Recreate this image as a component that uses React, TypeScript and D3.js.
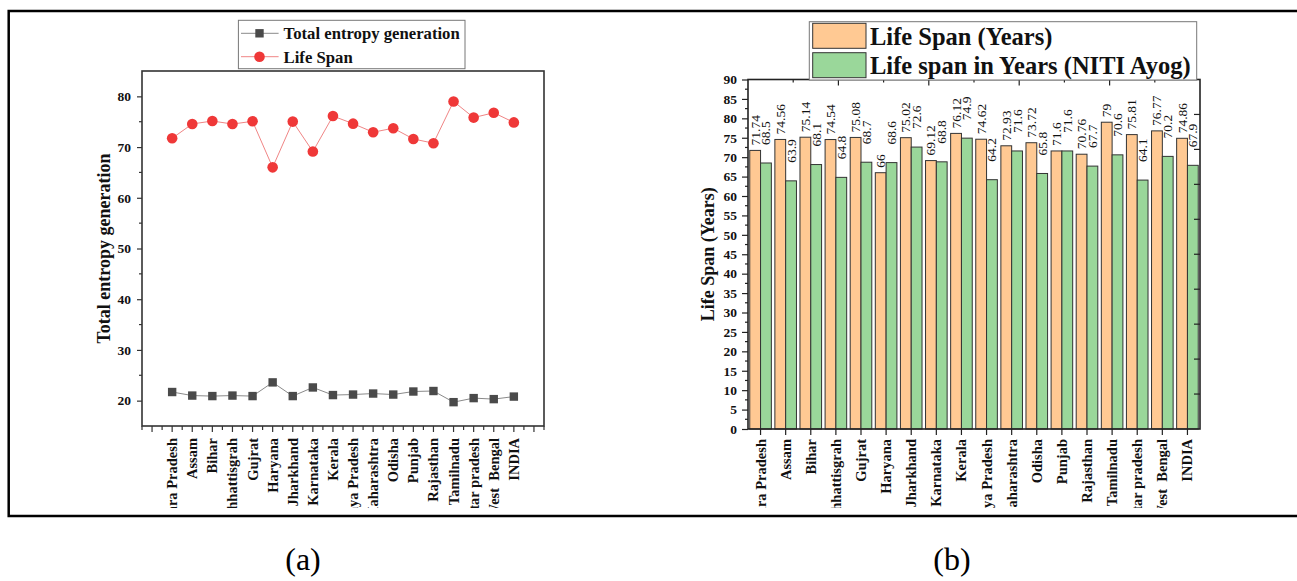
import React, { useEffect, useRef } from 'react';
import * as d3 from 'd3';

// categories (x axis of both panels)
const states = [
  'Andhra Pradesh', 'Assam', 'Bihar', 'Chhattisgrah', 'Gujrat', 'Haryana', 'Jharkhand',
  'Karnataka', 'Kerala', 'Madhya Pradesh', 'Maharashtra', 'Odisha', 'Punjab', 'Rajasthan',
  'Tamilnadu', 'Uttar pradesh', 'West  Bengal', 'INDIA',
];

// panel (a)
const entropyGen = [21.7, 21.0, 20.9, 21.0, 20.9, 23.6, 20.9, 22.6, 21.1, 21.2, 21.4, 21.2, 21.8, 21.9, 19.7, 20.5, 20.3, 20.8];
const lifeSpan = [71.74, 74.56, 75.14, 74.54, 75.08, 66, 75.02, 69.12, 76.12, 74.62, 72.93, 73.72, 71.6, 70.76, 79, 75.81, 76.77, 74.86];
const leftTicks = [20, 30, 40, 50, 60, 70, 80];
const leftLegend = ['Total entropy generation', 'Life Span'];

// panel (b)
const nitiLifeSpan = [68.5, 63.9, 68.1, 64.8, 68.7, 68.6, 72.6, 68.8, 74.9, 64.2, 71.6, 65.8, 71.6, 67.7, 70.6, 64.1, 70.2, 67.9];
const rightTicks = d3.range(0, 91, 5);
const rightLegend = ['Life Span (Years)', 'Life span in Years (NITI Ayog)'];
const barKeys = ['life', 'niti'];

const captions = ['(a)', '(b)'];

const SERIF = '"Liberation Serif", "Times New Roman", serif';
const ORANGE = '#FFC993';
const GREEN = '#9AD79A';

const App = () => {
  const ref = useRef<SVGSVGElement>(null);

  useEffect(() => {
    const svg = d3.select(ref.current);
    svg.selectAll('*').remove();

    // outer frame (open on the right)
    svg.append('path')
      .attr('d', 'M1297,11 H8.7 V516 H1297')
      .attr('fill', 'none')
      .attr('stroke', '#000')
      .attr('stroke-width', 2.5);

    svg.append('defs').append('clipPath').attr('id', 'labclip')
      .append('rect').attr('x', 0).attr('y', 0).attr('width', 1297).attr('height', 508);

    // ---------------- panel (a) ----------------
    const xA = d3.scaleLinear().domain([-0.5, 19.5]).range([142, 544]);
    const yA = d3.scaleLinear().domain([15, 85]).range([426, 71]);
    const a = svg.append('g');

    // y axis
    const yAxisA = a.append('g')
      .attr('transform', `translate(${xA.range()[0]},0)`)
      .call(d3.axisLeft(yA).tickValues(leftTicks).tickSize(5).tickPadding(6));
    yAxisA.select('.domain').remove();
    yAxisA.selectAll('line').attr('stroke', '#333').attr('stroke-width', 1.2);
    yAxisA.selectAll('text')
      .attr('font-family', SERIF).attr('font-size', 13.5).attr('font-weight', 'bold').attr('fill', '#111');
    a.selectAll('.minorYA')
      .data(d3.range(25, 80, 10))
      .enter().append('line')
      .attr('x1', xA.range()[0] - 3).attr('x2', xA.range()[0])
      .attr('y1', d => yA(d)).attr('y2', d => yA(d))
      .attr('stroke', '#333').attr('stroke-width', 1.2);

    // x ticks every half step
    a.selectAll('.xtickA')
      .data(d3.range(-0.5, 19.51, 0.5))
      .enter().append('line')
      .attr('x1', d => xA(d)).attr('x2', d => xA(d))
      .attr('y1', yA.range()[0])
      .attr('y2', d => yA.range()[0] + (Number.isInteger(d) ? 6 : 4))
      .attr('stroke', '#333').attr('stroke-width', 1.2);

    // frame
    a.append('rect')
      .attr('x', xA.range()[0]).attr('y', yA.range()[1])
      .attr('width', xA.range()[1] - xA.range()[0])
      .attr('height', yA.range()[0] - yA.range()[1])
      .attr('fill', 'none').attr('stroke', '#333').attr('stroke-width', 1.6);

    // x labels
    a.append('g').attr('clip-path', 'url(#labclip)')
      .selectAll('text')
      .data(states)
      .enter().append('text')
      .attr('transform', (d, i) => `translate(${xA(i + 1)},438) rotate(-90)`)
      .attr('text-anchor', 'end')
      .attr('dominant-baseline', 'central')
      .style('white-space', 'pre')
      .attr('font-family', SERIF).attr('font-size', 14.5).attr('font-weight', 'bold').attr('fill', '#111')
      .text(d => d);

    // y title
    a.append('text')
      .attr('transform', `translate(110,${(yA.range()[0] + yA.range()[1]) / 2}) rotate(-90)`)
      .attr('text-anchor', 'middle')
      .attr('font-family', SERIF).attr('font-size', 18).attr('font-weight', 'bold').attr('fill', '#111')
      .text('Total entropy generation');

    const lineA = d3.line<number>().x((d, i) => xA(i + 1)).y(d => yA(d));

    // entropy series
    a.append('path').attr('d', lineA(entropyGen))
      .attr('fill', 'none').attr('stroke', '#8a8a8a').attr('stroke-width', 1);
    a.selectAll('.sq')
      .data(entropyGen)
      .enter().append('rect')
      .attr('x', (d, i) => xA(i + 1) - 4.2).attr('y', d => yA(d) - 4.2)
      .attr('width', 8.4).attr('height', 8.4)
      .attr('fill', '#4a4a4a');

    // life span series
    a.append('path').attr('d', lineA(lifeSpan))
      .attr('fill', 'none').attr('stroke', '#f08585').attr('stroke-width', 1);
    a.selectAll('.dot')
      .data(lifeSpan)
      .enter().append('circle')
      .attr('cx', (d, i) => xA(i + 1)).attr('cy', d => yA(d))
      .attr('r', 5.3)
      .attr('fill', '#ef3838');

    // legend (a)
    const legA = a.append('g');
    legA.append('rect')
      .attr('x', 238.4).attr('y', 20.3).attr('width', 226.6).attr('height', 48.4)
      .attr('fill', '#fff').attr('stroke', '#777').attr('stroke-width', 1);
    leftLegend.forEach((name, i) => {
      const cy = 33.3 + i * 23.4;
      legA.append('line')
        .attr('x1', 241).attr('x2', 278.6).attr('y1', cy).attr('y2', cy)
        .attr('stroke', i === 0 ? '#8a8a8a' : '#f08585').attr('stroke-width', 1);
      if (i === 0) {
        legA.append('rect').attr('x', 255.3).attr('y', cy - 4.2).attr('width', 8.4).attr('height', 8.4).attr('fill', '#4a4a4a');
      } else {
        legA.append('circle').attr('cx', 259.5).attr('cy', cy).attr('r', 5.3).attr('fill', '#ef3838');
      }
      legA.append('text')
        .attr('x', 283.6).attr('y', cy + 6)
        .attr('font-family', SERIF).attr('font-size', 16.7).attr('font-weight', 'bold').attr('fill', '#111')
        .text(name);
    });

    // ---------------- panel (b) ----------------
    const xB = d3.scaleBand<string>().domain(states).range([748, 1200]).paddingInner(0.14).paddingOuter(0.07);
    const xSub = d3.scaleBand<string>().domain(barKeys).range([0, xB.bandwidth()]);
    const yB = d3.scaleLinear().domain([0, 90]).range([429, 79.5]);
    const xTop = d3.scaleLinear().domain([0, 5]).range(xB.range());
    const yRight = d3.scaleLinear().domain([0, 10]).range(yB.range());
    const b = svg.append('g');

    // bars
    const groups = b.selectAll('.grp')
      .data(states)
      .enter().append('g')
      .attr('transform', d => `translate(${xB(d)},0)`);
    groups.append('rect')
      .attr('x', xSub('life')).attr('width', xSub.bandwidth())
      .attr('y', (d, i) => yB(lifeSpan[i]))
      .attr('height', (d, i) => yB(0) - yB(lifeSpan[i]))
      .attr('fill', ORANGE).attr('stroke', '#333').attr('stroke-width', 1);
    groups.append('rect')
      .attr('x', xSub('niti')).attr('width', xSub.bandwidth())
      .attr('y', (d, i) => yB(nitiLifeSpan[i]))
      .attr('height', (d, i) => yB(0) - yB(nitiLifeSpan[i]))
      .attr('fill', GREEN).attr('stroke', '#333').attr('stroke-width', 1);

    // value labels
    const valueLabel = (vals: number[], key: string, gap: number) => {
      b.selectAll('.vl-' + key)
        .data(vals)
        .enter().append('text')
        .attr('transform', (d, i) =>
          `translate(${(xB(states[i]) as number) + (xSub(key) as number) + xSub.bandwidth() / 2},${yB(d) - gap}) rotate(-90)`)
        .attr('text-anchor', 'start')
        .attr('dominant-baseline', 'central')
        .attr('font-family', SERIF).attr('font-size', 13.5).attr('fill', '#111')
        .text(d => String(d));
    };
    valueLabel(lifeSpan, 'life', 5);
    valueLabel(nitiLifeSpan, 'niti', 18);

    // left axis
    const yAxisB = b.append('g')
      .attr('transform', `translate(${xB.range()[0]},0)`)
      .call(d3.axisLeft(yB).tickValues(rightTicks).tickSize(6).tickPadding(5));
    yAxisB.select('.domain').remove();
    yAxisB.selectAll('line').attr('stroke', '#222').attr('stroke-width', 1.2);
    yAxisB.selectAll('text')
      .attr('font-family', SERIF).attr('font-size', 13.5).attr('font-weight', 'bold').attr('fill', '#111');
    b.selectAll('.minorYB')
      .data(d3.range(2.5, 90, 5))
      .enter().append('line')
      .attr('x1', xB.range()[0] - 3).attr('x2', xB.range()[0])
      .attr('y1', d => yB(d)).attr('y2', d => yB(d))
      .attr('stroke', '#222').attr('stroke-width', 1.2);

    // bottom ticks at group centres
    b.selectAll('.xtickB')
      .data(states)
      .enter().append('line')
      .attr('x1', d => (xB(d) as number) + xB.bandwidth() / 2)
      .attr('x2', d => (xB(d) as number) + xB.bandwidth() / 2)
      .attr('y1', yB(0)).attr('y2', yB(0) + 6)
      .attr('stroke', '#222').attr('stroke-width', 1.2);

    // top & right axes (inward ticks, no labels)
    b.selectAll('.topTick')
      .data(d3.range(0.5, 5, 0.5))
      .enter().append('line')
      .attr('x1', d => xTop(d)).attr('x2', d => xTop(d))
      .attr('y1', yB.range()[1]).attr('y2', d => yB.range()[1] + (Number.isInteger(d) ? 6 : 3))
      .attr('stroke', '#222').attr('stroke-width', 1.2);
    b.selectAll('.rightTick')
      .data(d3.range(1, 10))
      .enter().append('line')
      .attr('x1', xB.range()[1] - 6).attr('x2', xB.range()[1])
      .attr('y1', d => yRight(d)).attr('y2', d => yRight(d))
      .attr('stroke', '#222').attr('stroke-width', 1.2);

    // frame
    b.append('rect')
      .attr('x', xB.range()[0]).attr('y', yB.range()[1])
      .attr('width', xB.range()[1] - xB.range()[0])
      .attr('height', yB.range()[0] - yB.range()[1])
      .attr('fill', 'none').attr('stroke', '#222').attr('stroke-width', 1.6);

    // x labels
    b.append('g').attr('clip-path', 'url(#labclip)')
      .selectAll('text')
      .data(states)
      .enter().append('text')
      .attr('transform', d => `translate(${(xB(d) as number) + xB.bandwidth() / 2},439) rotate(-90)`)
      .attr('text-anchor', 'end')
      .attr('dominant-baseline', 'central')
      .style('white-space', 'pre')
      .attr('font-family', SERIF).attr('font-size', 14.5).attr('font-weight', 'bold').attr('fill', '#111')
      .text(d => d);

    // y title
    b.append('text')
      .attr('transform', `translate(714,${(yB.range()[0] + yB.range()[1]) / 2}) rotate(-90)`)
      .attr('text-anchor', 'middle')
      .attr('font-family', SERIF).attr('font-size', 18).attr('font-weight', 'bold').attr('fill', '#111')
      .text('Life Span (Years)');

    // legend (b)
    const legB = b.append('g');
    legB.append('rect')
      .attr('x', 809.3).attr('y', 21.7).attr('width', 387.4).attr('height', 58.3)
      .attr('fill', '#fff').attr('stroke', '#777').attr('stroke-width', 1);
    rightLegend.forEach((name, i) => {
      const top = 23.3 + i * 29.4;
      legB.append('rect')
        .attr('x', 812.7).attr('y', top).attr('width', 53.3).attr('height', 25)
        .attr('fill', i === 0 ? ORANGE : GREEN).attr('stroke', '#333').attr('stroke-width', 1);
      legB.append('text')
        .attr('x', 870).attr('y', top + 21.7)
        .attr('font-family', SERIF).attr('font-size', 24.5).attr('font-weight', 'bold').attr('fill', '#111')
        .text(name);
    });

    // captions
    svg.selectAll('.cap')
      .data(captions)
      .enter().append('text')
      .attr('x', (d, i) => (i === 0 ? 303 : 952))
      .attr('y', 570)
      .attr('text-anchor', 'middle')
      .attr('font-family', SERIF).attr('font-size', 32).attr('fill', '#000')
      .text(d => d);
  }, []);

  return (
    <svg
      ref={ref}
      width={1297}
      height={581}
      style={{ position: 'absolute', left: 0, top: 0, background: '#fff' }}
    />
  );
};

export default App;
